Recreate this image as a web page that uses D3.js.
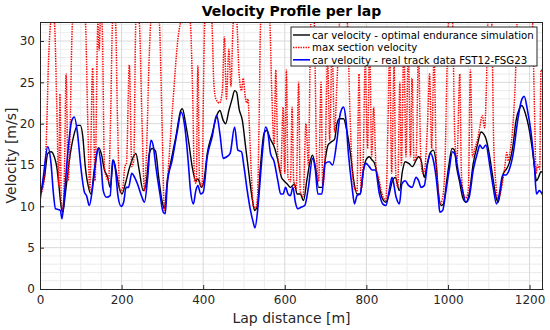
<!DOCTYPE html>
<html>
<head>
<meta charset="utf-8">
<script src="https://cdn.jsdelivr.net/npm/d3@7"></script>
<style>
  body { margin: 0; background: #fff; }
  svg { font-family: "DejaVu Sans", Verdana, sans-serif; }
</style>
</head>
<body>
<div class="velocityDiv"></div>
<script>
// lap distance [m] / velocity [m/s]
const simDist = [0, 11, 19, 27, 35, 41, 46, 52, 56, 62, 72, 82, 92, 99, 105, 111, 119, 125, 133, 144, 150, 158, 166, 172, 180, 186, 194, 201, 209, 219, 229, 235, 243, 253, 260, 268, 275, 283, 291, 299, 305,
    312, 320, 333, 345, 349, 357, 365, 373, 382, 387, 396, 402, 410, 422, 435, 441, 449, 455, 463, 471, 477, 482, 488, 496, 504, 512, 521, 526, 533, 541, 549, 556, 564, 574, 583, 592, 598, 606, 614,
    624, 630, 638, 646, 654, 663, 668, 675, 683, 691, 699, 706, 714, 722, 728, 734, 744, 752, 761, 769, 777, 785, 793, 799, 807, 814, 820, 828, 838, 848, 856, 864, 871, 881, 889, 895, 904, 913,
    922, 928, 934, 942, 948, 956, 964, 971, 977, 983, 989, 997, 1003, 1010, 1016, 1021, 1028, 1036, 1044, 1052, 1062, 1073, 1081, 1087, 1093, 1101, 1110, 1118, 1123, 1129, 1136, 1142, 1150, 1159, 1167, 1175, 1181, 1190, 1198, 1206, 1212, 1217, 1222, 1228, 1233];
const simVel = [11.5, 13.5, 16.4, 16.6, 16.0, 14.8, 12.7, 9.9, 9.3, 11.5, 15.6, 18.4, 19.8, 19.8, 18.4, 14.8, 12.3, 11.5, 14.4, 17.1, 16.4, 14.4, 13.5, 12.3, 15.6, 14.4, 12.3, 11.5, 12.7, 14.6, 16.0, 16.4, 14.4, 11.9, 12.7, 16.4, 17.0, 16.7, 13.5, 10.7, 9.7,
    13.1, 15.2, 18.4, 21.6, 21.8, 20.0, 17.6, 14.8, 13.1, 13.3, 12.3, 13.1, 16.4, 18.8, 21.2, 21.6, 20.4, 20.0, 21.6, 23.0, 24.0, 23.8, 21.8, 20.4, 17.2, 14.0, 10.7, 9.5, 10.1, 15.2, 18.8, 19.2, 18.2, 17.2, 15.6, 13.5, 13.1, 12.7, 12.3,
    12.7, 11.5, 11.5, 10.7, 13.1, 15.6, 16.2, 14.8, 12.3, 12.3, 15.6, 17.4, 17.8, 18.1, 20.0, 20.6, 20.6, 19.2, 16.4, 13.1, 11.5, 11.5, 14.4, 15.6, 16.0, 15.6, 15.2, 13.5, 11.1, 10.5, 11.5, 13.1, 13.5, 11.9, 14.4, 15.4, 15.2, 14.8,
    15.6, 16.0, 15.6, 13.5, 14.8, 16.4, 16.8, 15.2, 11.5, 10.1, 10.3, 13.1, 15.2, 17.0, 16.8, 14.8, 13.1, 11.1, 10.5, 11.5, 15.2, 17.6, 19.0, 18.8, 18.2, 16.4, 13.5, 11.1, 10.5, 11.9, 14.0, 14.4, 15.2, 17.2, 20.4, 21.8, 22.2, 21.2, 19.6, 17.2, 14.8, 13.1, 13.5, 14.2, 14.0];

const realDist = [0, 8, 19, 27, 33, 38, 46, 50, 54, 60, 68, 78, 84, 92, 100, 109, 114, 121, 129, 136, 142, 150, 155, 163, 172, 178, 185, 191, 199, 205, 211, 217, 225, 232, 239, 250, 256, 264, 272, 278, 284, 294, 302, 307,
    312, 324, 337, 346, 355, 363, 369, 376, 382, 387, 394, 400, 410, 422, 433, 441, 449, 458, 466, 477, 485, 494, 500, 508, 516, 523, 527, 533, 537, 545, 553, 559, 565, 574, 583, 590, 596, 602, 608, 614,
    620, 626, 632, 640, 649, 658, 668, 675, 681, 691, 699, 709, 717, 728, 736, 744, 750, 756, 765, 771, 777, 785, 793, 799, 807, 814, 822, 832, 840, 848, 856, 863, 873, 881, 887, 895, 904, 912,
    922, 928, 934, 942, 950, 958, 964, 971, 977, 980, 987, 994, 1003, 1011, 1018, 1026, 1034, 1044, 1052, 1062, 1073, 1078, 1085, 1093, 1103, 1111, 1119, 1126, 1134, 1142, 1150, 1160, 1171, 1179, 1187, 1195, 1203, 1212, 1217, 1224, 1233];
const realVel = [10.7, 13.5, 17.2, 15.2, 11.5, 9.7, 9.6, 9.5, 8.5, 11.5, 16.4, 20.4, 20.8, 18.8, 14.8, 11.7, 11.3, 10.1, 12.3, 15.2, 17.0, 14.8, 11.9, 11.1, 11.3, 15.6, 14.4, 11.3, 10.0, 10.5, 12.3, 12.3, 14.0, 13.5, 12.7, 11.1, 10.5, 13.5, 18.0, 17.2, 14.8, 11.5, 9.3, 9.1,
    12.7, 15.6, 19.2, 21.4, 19.6, 15.6, 11.9, 10.3, 11.9, 12.5, 11.5, 11.7, 16.0, 18.4, 21.0, 18.8, 15.8, 16.0, 16.4, 19.6, 16.8, 16.6, 14.8, 11.9, 9.5, 8.0, 7.4, 9.3, 11.5, 16.4, 19.6, 18.8, 16.4, 15.4, 13.1, 11.5, 11.5, 12.3, 11.5, 11.3,
    12.3, 10.5, 9.7, 9.9, 10.1, 12.3, 15.8, 14.4, 11.5, 11.5, 15.2, 15.4, 15.0, 18.0, 21.2, 22.0, 20.4, 16.4, 12.3, 10.3, 11.3, 11.5, 14.4, 15.2, 14.8, 14.4, 14.4, 11.5, 10.3, 10.1, 11.9, 13.5, 11.1, 10.3, 12.7, 13.1, 12.5, 12.3,
    13.5, 13.1, 12.3, 12.5, 15.2, 16.4, 15.6, 13.5, 10.7, 9.3, 9.5, 11.5, 14.4, 16.6, 16.2, 14.0, 12.3, 10.5, 11.1, 14.4, 16.6, 17.4, 17.0, 17.4, 14.8, 12.3, 10.3, 11.5, 13.8, 13.8, 14.4, 16.4, 20.4, 22.6, 23.3, 21.6, 19.2, 14.8, 11.5, 11.9, 11.3];

const maxDist = [0, 6.5, 15, 21, 27, 35, 41, 46, 49, 52, 56, 60, 64, 69, 72, 80, 111, 117, 122, 129, 135, 142, 145, 148, 152, 158, 163, 168, 173, 178, 185, 190, 196, 203, 208, 212, 219, 225, 230, 235, 243, 250, 256, 261, 268, 272, 292, 299, 305,
    312, 325, 340, 346, 368, 374, 379, 383, 387, 391, 397, 401, 404, 421, 426, 431, 440, 447, 452, 457, 463, 468, 474, 482, 488, 494, 498, 503, 507, 510, 513, 518, 523, 528, 533, 537, 541, 563, 568, 574, 578, 583, 590, 596, 600, 604, 608, 614, 618, 622,
    628, 634, 638, 645, 652, 658, 664, 672, 678, 683, 689, 693, 699, 705, 710, 716, 722, 728, 735, 753, 760, 766, 772, 777, 782, 787, 792, 797, 803, 808, 813, 818, 824, 830, 836, 842, 848, 853, 857, 862, 868, 872, 877, 882, 886, 892, 897, 903, 908, 912, 917,
    922, 928, 933, 938, 943, 950, 955, 960, 966, 971, 976, 981, 986, 992, 998, 1002, 1011, 1017, 1022, 1029, 1033, 1038, 1044, 1050, 1055, 1060, 1066, 1072, 1078, 1084, 1090, 1094, 1098, 1107, 1112, 1117, 1122, 1128, 1134, 1140, 1144, 1148, 1152, 1158, 1165, 1170, 1207, 1212, 1216, 1220, 1225, 1228, 1233];
const maxVel = [11.5, 12.1, 17.2, 27.7, 32.3, 32.3, 22.4, 12.5, 23.6, 10.7, 9.5, 14.4, 26.0, 13.1, 15.6, 32.3, 32.3, 20.4, 11.9, 26.7, 13.1, 32.3, 28.9, 32.3, 32.3, 14.8, 13.5, 13.1, 20.4, 32.3, 32.3, 20.4, 11.7, 12.3, 14.8, 15.2, 27.1, 14.8, 15.6, 32.3, 32.3, 20.4, 11.9, 16.4, 28.5, 32.3, 32.3, 20.4, 9.5,
    13.0, 22.0, 31.0, 32.3, 32.3, 24.0, 13.0, 12.8, 27.0, 13.0, 12.4, 25.0, 32.3, 32.3, 25.0, 23.0, 22.5, 24.0, 30.5, 23.0, 29.0, 24.5, 32.3, 32.3, 26.0, 24.0, 25.5, 23.3, 22.5, 23.0, 20.0, 14.0, 10.0, 9.8, 11.0, 20.0, 32.3, 32.3, 24.0, 17.5, 26.5, 16.0, 14.0, 22.0, 14.0, 26.5, 13.5, 13.0, 22.0, 13.0,
    12.0, 25.0, 11.8, 11.2, 20.0, 15.0, 32.3, 32.3, 16.0, 13.0, 25.0, 12.5, 16.0, 28.0, 18.0, 29.0, 19.0, 25.0, 32.3, 32.3, 21.0, 14.0, 12.0, 11.8, 26.0, 12.0, 15.0, 27.0, 17.0, 30.0, 16.0, 22.0, 14.5, 13.5, 12.0, 11.0, 10.7, 20.0, 29.0, 14.0, 27.0, 14.0, 12.3, 25.0, 15.0, 30.0, 16.0, 29.0, 16.0, 25.5, 15.5,
    16.0, 29.0, 16.5, 14.0, 14.5, 20.0, 26.0, 17.0, 28.0, 16.0, 12.0, 10.3, 10.8, 14.0, 27.0, 32.3, 32.3, 18.0, 15.5, 26.0, 14.0, 11.5, 11.0, 12.0, 26.5, 16.0, 17.0, 18.0, 19.5, 21.0, 19.5, 24.0, 32.3, 32.3, 18.0, 13.0, 11.0, 11.5, 13.0, 15.0, 16.5, 15.5, 16.5, 19.0, 25.0, 32.3, 32.3, 22.0, 14.0, 15.0, 14.5, 26.5, 26.0];

const xTicks = [0, 200, 400, 600, 800, 1000, 1200];
const yTicks = [0, 5, 10, 15, 20, 25, 30];
const legendLabels = ['car velocity - optimal endurance simulation', 'max section velocity', 'car velocity - real track data FST12-FSG23'];

const chartWidth = 550;
const chartHeight = 330;
const chartMargin = {top: 22, left: 40, right: 7, bottom: 41};
const plotWidth = chartWidth - chartMargin.left - chartMargin.right;
const plotHeight = chartHeight - chartMargin.top - chartMargin.bottom;

const axisColor = '#262626';

var svg = d3.select('.velocityDiv')
    .append('svg')
    .attr('width', chartWidth)
    .attr('height', chartHeight);

var plot = svg.append('g')
    .attr('transform', `translate(${chartMargin.left},${chartMargin.top})`);

var xScale = d3.scaleLinear().domain([0, 1233]).range([0, plotWidth]);
var yScale = d3.scaleLinear().domain([0, 32.3]).range([plotHeight, 0]);

function drawGrid(){
    // minor grid
    plot.append('g')
        .selectAll('line')
        .data(d3.range(50, 1233, 50).filter(d => d % 200 != 0))
        .join('line')
        .attr('x1', d => xScale(d)).attr('x2', d => xScale(d))
        .attr('y1', 0).attr('y2', plotHeight)
        .attr('stroke', '#ececec').attr('stroke-width', 1);

    plot.append('g')
        .selectAll('line')
        .data(d3.range(1, 33, 1).filter(d => d % 5 != 0))
        .join('line')
        .attr('x1', 0).attr('x2', plotWidth)
        .attr('y1', d => yScale(d)).attr('y2', d => yScale(d))
        .attr('stroke', '#ececec').attr('stroke-width', 1);

    // major grid
    plot.append('g')
        .selectAll('line')
        .data(xTicks.slice(1))
        .join('line')
        .attr('x1', d => xScale(d)).attr('x2', d => xScale(d))
        .attr('y1', 0).attr('y2', plotHeight)
        .attr('stroke', '#d9d9d9').attr('stroke-width', 1);

    plot.append('g')
        .selectAll('line')
        .data(yTicks.slice(1))
        .join('line')
        .attr('x1', 0).attr('x2', plotWidth)
        .attr('y1', d => yScale(d)).attr('y2', d => yScale(d))
        .attr('stroke', '#d9d9d9').attr('stroke-width', 1);
}

function drawLines(){
    plot.append('clipPath')
        .attr('id', 'plotClip')
        .append('rect')
        .attr('width', plotWidth)
        .attr('height', plotHeight);

    const line = d3.line()
        .curve(d3.curveMonotoneX)
        .x(d => xScale(d[0]))
        .y(d => yScale(d[1]));

    const series = [
        {dist: simDist, vel: simVel, color: '#000000', width: 1.4, dash: null},
        {dist: maxDist, vel: maxVel, color: '#ff0000', width: 1.5, dash: '1.4,1.1'},
        {dist: realDist, vel: realVel, color: '#0000ff', width: 1.6, dash: null}
    ];

    series.forEach(s => {
        plot.append('path')
            .datum(d3.zip(s.dist, s.vel))
            .attr('clip-path', 'url(#plotClip)')
            .attr('fill', 'none')
            .attr('stroke', s.color)
            .attr('stroke-width', s.width)
            .attr('stroke-dasharray', s.dash)
            .attr('d', line);
    });
}

function drawAxes(){
    const xAxis = plot.append('g')
        .attr('transform', `translate(0,${plotHeight})`)
        .call(d3.axisBottom(xScale).tickValues(xTicks).tickFormat(d3.format('d'))
            .tickSize(-4).tickPadding(6).tickSizeOuter(0));

    const yAxis = plot.append('g')
        .call(d3.axisLeft(yScale).tickValues(yTicks).tickFormat(d3.format('d'))
            .tickSize(-4).tickPadding(5).tickSizeOuter(0));

    [xAxis, yAxis].forEach(a => {
        a.select('.domain').attr('stroke', axisColor);
        a.selectAll('.tick line').attr('stroke', axisColor);
        a.selectAll('.tick text')
            .attr('fill', axisColor)
            .style('font-size', '12px')
            .style('font-family', '"DejaVu Sans", Verdana, sans-serif');
    });

    // top and right box edges
    plot.append('line')
        .attr('x1', 0).attr('x2', plotWidth).attr('y1', 0.5).attr('y2', 0.5)
        .attr('stroke', axisColor);
    plot.append('line')
        .attr('x1', plotWidth - 0.5).attr('x2', plotWidth - 0.5).attr('y1', 0).attr('y2', plotHeight)
        .attr('stroke', axisColor);

    svg.append('text')
        .attr('x', chartMargin.left + plotWidth / 2)
        .attr('y', 16)
        .attr('text-anchor', 'middle')
        .style('font-size', '14px')
        .style('font-weight', 'bold')
        .attr('fill', '#000')
        .text('Velocity Profile per lap');

    svg.append('text')
        .attr('x', chartMargin.left + plotWidth / 2)
        .attr('y', 323)
        .attr('text-anchor', 'middle')
        .style('font-size', '14px')
        .attr('fill', axisColor)
        .text('Lap distance [m]');

    svg.append('text')
        .attr('transform', `translate(16,${chartMargin.top + plotHeight / 2}) rotate(-90)`)
        .attr('text-anchor', 'middle')
        .style('font-size', '14px')
        .attr('fill', axisColor)
        .text('Velocity [m/s]');
}

function drawLegend(){
    const legendX = 291;
    const legendY = 27;
    const legend = svg.append('g');

    legend.append('rect')
        .attr('x', legendX).attr('y', legendY)
        .attr('width', 246).attr('height', 39)
        .attr('fill', '#fff')
        .attr('stroke', axisColor)
        .attr('stroke-width', 1);

    const styles = [
        {color: '#000000', width: 1.4, dash: null},
        {color: '#ff0000', width: 1.5, dash: '1.4,1.1'},
        {color: '#0000ff', width: 1.6, dash: null}
    ];

    const texts = [];
    legendLabels.forEach((label, i) => {
        const y = legendY + 8 + i * 12.4;
        legend.append('line')
            .attr('x1', legendX + 2).attr('x2', legendX + 19)
            .attr('y1', y).attr('y2', y)
            .attr('stroke', styles[i].color)
            .attr('stroke-width', styles[i].width)
            .attr('stroke-dasharray', styles[i].dash);
        texts.push(legend.append('text')
            .attr('x', legendX + 21)
            .attr('y', y + 4)
            .style('font-size', '11px')
            .attr('fill', '#000')
            .text(label));
    });

    // shrink the font so the longest entry fits the box like the original
    const longest = d3.max(texts, t => t.node().getComputedTextLength());
    const size = Math.min(11, 11 * 222 / longest);
    texts.forEach(t => t.style('font-size', size + 'px'));
}

drawGrid();
drawLines();
drawAxes();
drawLegend();
</script>
</body>
</html>
